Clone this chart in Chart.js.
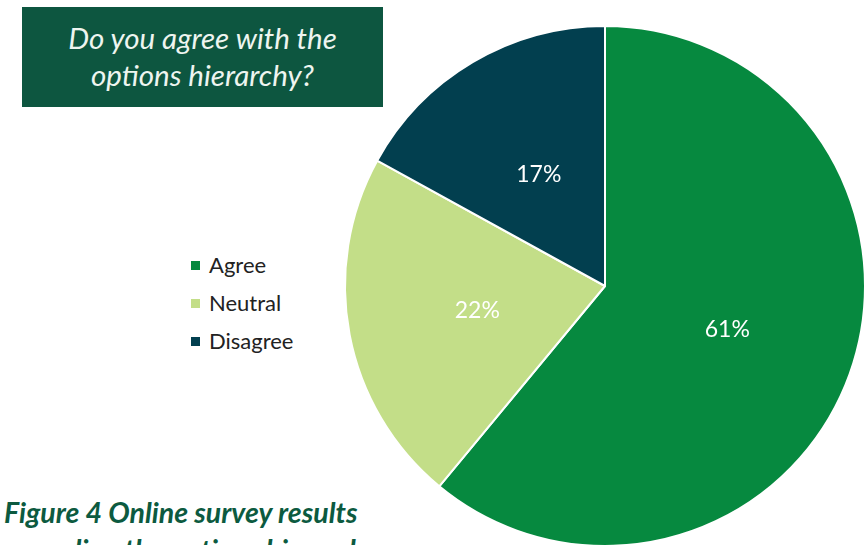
<!DOCTYPE html>
<html>
<head>
<meta charset="utf-8">
<script src="https://cdn.jsdelivr.net/npm/chart.js@4.4.1/dist/chart.umd.min.js"></script>
<style>
  html, body { margin: 0; padding: 0; background: #fff; }
  body { width: 868px; height: 545px; overflow: hidden; position: relative; font-family: Lato, "Open Sans", sans-serif; }
  #chart { position: absolute; left: 0; top: 0; }
  .title-box {
    position: absolute; left: 22px; top: 7px; width: 361px; height: 100px;
    background: #0d5640; color: #eef5f0; font-style: italic; font-size: 29.5px;
    text-align: center; line-height: 37px; padding-top: 12px; box-sizing: border-box;
  }
  #legend { position: absolute; left: 191px; top: 251px; font-size: 22px; color: #222; }
  #legend div { height: 38px; display: flex; align-items: flex-start; }
  #legend span.sw { width: 9px; height: 9px; margin: 10px 9px 0 0; }
  .caption {
    position: absolute; left: 4px; top: 494px; font-size: 28.5px; font-weight: bold;
    font-style: italic; color: #0c5a40; line-height: 37px; white-space: nowrap;
  }
</style>
</head>
<body>
<div class="title-box">Do you agree with the<br>options hierarchy?</div>
<div id="legend"></div>
<div class="caption">Figure 4 Online survey results<br>regarding the options hierarchy</div>
<canvas id="chart" width="868" height="570"></canvas>
<script>
const labels = ["Agree", "Neutral", "Disagree"];
const valores = [61, 22, 17];
const cores = ["#06893f", "#c3de88", "#023f4f"];

// legend built from the same arrays
const legend = document.getElementById("legend");
labels.forEach((nome, i) => {
    const row = document.createElement("div");
    const sw = document.createElement("span");
    sw.className = "sw";
    sw.style.background = cores[i];
    row.appendChild(sw);
    row.appendChild(document.createTextNode(nome));
    legend.appendChild(row);
});

// percentage labels in the middle of each slice
const rotulos = {
    id: "rotulos",
    afterDatasetsDraw(chart) {
        const ctx = chart.ctx;
        const meta = chart.getDatasetMeta(0);
        ctx.save();
        ctx.font = "23px Lato, 'Open Sans', sans-serif";
        ctx.fillStyle = "#ffffff";
        ctx.textAlign = "center";
        ctx.textBaseline = "middle";
        meta.data.forEach((arc, i) => {
            const p = arc.tooltipPosition();
            ctx.fillText(valores[i] + "%", p.x, p.y);
        });
        ctx.restore();
    }
};

new Chart(document.getElementById("chart"), {
    type: "pie",
    data: {
        labels,
        datasets: [
            {
                data: valores,
                backgroundColor: cores,
                borderColor: "#ffffff",
                borderWidth: 2
            }
        ]
    },
    options: {
        responsive: false,
        animation: false,
        layout: {
            padding: { left: 344, top: 25, right: 2, bottom: 23 }
        },
        plugins: {
            legend: { display: false },
            tooltip: { enabled: false }
        }
    },
    plugins: [rotulos]
});
</script>
</body>
</html>
